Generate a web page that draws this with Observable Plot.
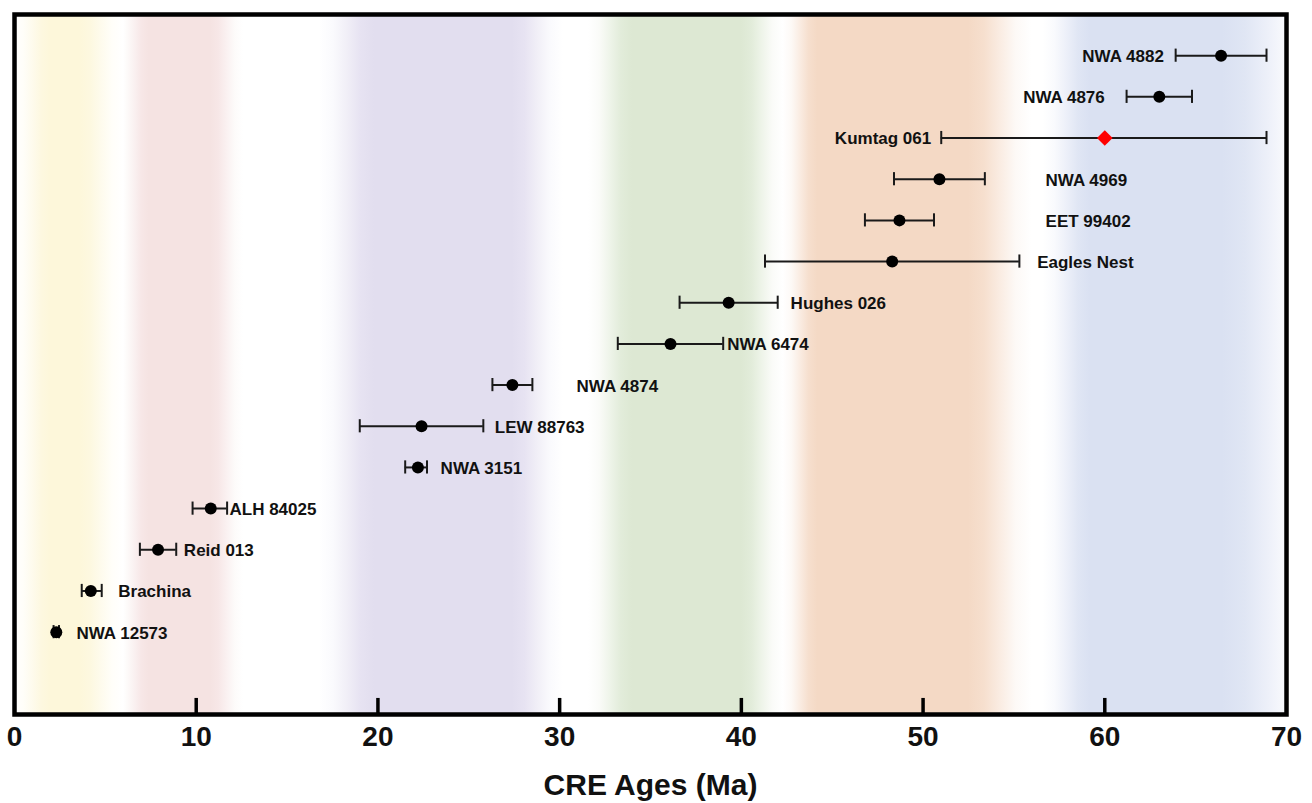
<!DOCTYPE html>
<html>
<head>
<meta charset="utf-8">
<script src="https://cdn.jsdelivr.net/npm/d3@7"></script>
<script src="https://cdn.jsdelivr.net/npm/@observablehq/plot@0.6"></script>
<style>
  html, body { margin: 0; padding: 0; background: #fff; }
  #chart svg { display: block; overflow: visible; }
</style>
</head>
<body>
<div id="chart"></div>
<script>
// ---- data ----
const names = ["NWA 4882","NWA 4876","Kumtag 061","NWA 4969","EET 99402","Eagles Nest","Hughes 026","NWA 6474","NWA 4874","LEW 88763","NWA 3151","ALH 84025","Reid 013","Brachina","NWA 12573"];
const ages  = [66.4, 63.0, 60.0, 50.9, 48.7, 48.3, 39.3, 36.1, 27.4, 22.4, 22.2, 10.8, 7.9, 4.2, 2.3];
const lows  = [63.9, 61.2, 51.0, 48.4, 46.8, 41.3, 36.6, 33.2, 26.3, 19.0, 21.5, 9.8, 6.9, 3.7, 2.15];
const highs = [68.9, 64.8, 68.9, 53.4, 50.6, 55.3, 42.0, 39.0, 28.5, 25.8, 22.7, 11.7, 8.9, 4.8, 2.45];
const rows  = [15, 14, 13, 12, 11, 10, 9, 8, 7, 6, 5, 4, 3, 2, 1];
const labelX      = [63.25, 60.0, 50.45, 56.74, 56.74, 56.28, 42.71, 39.22, 30.93, 26.43, 23.45, 11.83, 9.32, 5.71, 3.41];
const labelAnchor = ["end","end","end","start","start","start","start","start","start","start","start","start","start","start","start"];
const highlight   = "Kumtag 061";
const xTicks = [0, 10, 20, 30, 40, 50, 60, 70];
// background colour bands: [fade-in start, solid start, solid end, fade-out end]
const bandColors = ["#fdf7da", "#f5e3e2", "#e2deef", "#dde8d3", "#f4d9c5", "#dae1f2"];
const bandStops  = [[0.0, 2.0, 3.6, 6.0], [5.8, 7.4, 10.8, 12.6], [16.8, 19.8, 27.4, 30.2], [31.6, 34.0, 40.0, 42.3], [42.3, 44.2, 52.5, 56.0], [56.6, 59.2, 66.5, 71.5]];

const data = names.map((n, i) => ({
  name: n, age: ages[i], lo: lows[i], hi: highs[i], row: rows[i],
  lx: labelX[i], anchor: labelAnchor[i]
}));

const xDomain = [0, 70];
const capHalf = 0.16;

function bandsMark(index, scales, values, dimensions) {
  const {width, height, marginLeft, marginRight, marginTop, marginBottom} = dimensions;
  const g = d3.create("svg:g");
  const x0 = scales.x(xDomain[0]), x1 = scales.x(xDomain[1]);
  const grad = g.append("defs").append("linearGradient")
    .attr("id", "bandsGrad").attr("gradientUnits", "userSpaceOnUse")
    .attr("x1", x0).attr("x2", x1).attr("y1", 0).attr("y2", 0);
  const stops = [];
  const smooth = t => t * t * (3 - 2 * t);
  bandStops.forEach((s, i) => {
    const c = bandColors[i];
    const mix = d3.interpolateRgb("#ffffff", c);
    // smooth fade in
    for (let k = 0; k <= 4; k++) {
      const t = k / 4;
      stops.push([s[0] + (s[1] - s[0]) * t, mix(smooth(t))]);
    }
    // smooth fade out
    for (let k = 0; k <= 4; k++) {
      const t = k / 4;
      stops.push([s[2] + (s[3] - s[2]) * t, mix(smooth(1 - t))]);
    }
  });
  stops.forEach(([v, c]) => {
    const off = Math.max(0, Math.min(1, (scales.x(v) - x0) / (x1 - x0)));
    grad.append("stop").attr("offset", off).attr("stop-color", c);
  });
  g.append("rect")
    .attr("x", marginLeft).attr("y", marginTop)
    .attr("width", width - marginLeft - marginRight)
    .attr("height", height - marginTop - marginBottom)
    .attr("fill", "url(#bandsGrad)");
  return g.node();
}

const font = "'Liberation Sans', Arial, Helvetica, sans-serif";

const chart = Plot.plot({
  width: 1312,
  height: 803,
  marginLeft: 14,
  marginRight: 26,
  marginTop: 14,
  marginBottom: 89,
  style: {fontFamily: font, background: "transparent"},
  x: {domain: xDomain},
  y: {domain: [-1, 16], axis: null},
  marks: [
    bandsMark,
    // inward ticks
    Plot.ruleX(xTicks.slice(1, -1), {x: d => d, y1: -1, y2: -0.61, stroke: "black", strokeWidth: 3.5}),
    Plot.axisX({ticks: xTicks, tickSize: 0, tickPadding: 12, fontSize: 28, fontWeight: "bold", tickFormat: d => d, label: null, fill: "#111"}),
    Plot.text(["CRE Ages (Ma)"], {frameAnchor: "bottom", lineAnchor: "middle", dy: 71, fontSize: 30, fontWeight: "bold", fill: "#111"}),
    // error bars
    Plot.ruleY(data, {y: "row", x1: "lo", x2: "hi", stroke: "#1a1a1a", strokeWidth: 2}),
    Plot.ruleX(data, {x: "lo", y1: d => d.row - capHalf, y2: d => d.row + capHalf, stroke: "#1a1a1a", strokeWidth: 2}),
    Plot.ruleX(data, {x: "hi", y1: d => d.row - capHalf, y2: d => d.row + capHalf, stroke: "#1a1a1a", strokeWidth: 2}),
    // points
    Plot.dot(data.filter(d => d.name !== highlight), {x: "age", y: "row", r: 6, fill: "black", stroke: "none"}),
    Plot.dot(data.filter(d => d.name === highlight), {x: "age", y: "row", r: 7, symbol: "diamond2", fill: "#ff0000", stroke: "none"}),
    // labels
    Plot.text(data.filter(d => d.anchor === "end"), {x: "lx", y: "row", text: "name", textAnchor: "end", fontSize: 17, fontWeight: "bold", fill: "#111", dy: 1}),
    Plot.text(data.filter(d => d.anchor === "start"), {x: "lx", y: "row", text: "name", textAnchor: "start", fontSize: 17, fontWeight: "bold", fill: "#111", dy: 1}),
    Plot.frame({stroke: "black", strokeWidth: 4.5})
  ]
});
document.getElementById("chart").appendChild(chart);
</script>
</body>
</html>
